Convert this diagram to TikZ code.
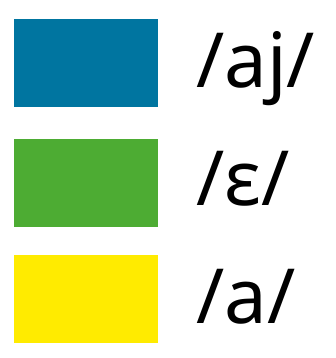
\documentclass[tikz,border=0pt]{standalone}
\usepackage{fontspec}
\setmainfont{Noto Sans}
\definecolor{swblue}{RGB}{0,117,160}
\definecolor{swgreen}{RGB}{77,172,51}
\definecolor{swyellow}{RGB}{255,235,0}
\begin{document}
\begin{tikzpicture}[x=1pt, y=-1pt,
    swatch/.style={rectangle, minimum width=144pt, minimum height=88pt,
      inner sep=0pt, draw=none},
    lbl/.style={anchor=base west, inner sep=0pt, font=\fontsize{76}{80}\selectfont}
  ]
    \useasboundingbox (0,0) rectangle (336,358);
    % Swatches
    \node[swatch, fill=swblue]   (s1) at (86,63)  {};
    \node[swatch, fill=swgreen]  (s2) at (86,183) {};
    \node[swatch, fill=swyellow] (s3) at (86,299) {};

    % Labels
    \node[lbl] (l1) at (196,88)  {/aj/};
    \node[lbl] (l2) at (196,205) {/ɛ/};
    \node[lbl] (l3) at (196,323) {/a/};
  \end{tikzpicture}
\end{document}
